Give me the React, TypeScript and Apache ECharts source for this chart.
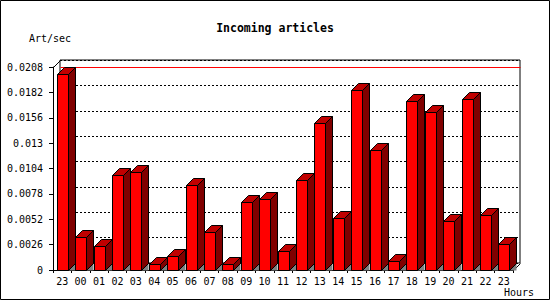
import React, { useEffect, useRef } from 'react';
import * as echarts from 'echarts';

const hours = ['23', '00', '01', '02', '03', '04', '05', '06', '07', '08', '09', '10', '11', '12', '13', '14', '15', '16', '17', '18', '19', '20', '21', '22', '23'];
const articlesPerSec = [0.0201, 0.0034, 0.0025, 0.0097, 0.0100, 0.0006, 0.0014, 0.0087, 0.0039, 0.0006, 0.0070, 0.0073, 0.0019, 0.0092, 0.0151, 0.0053, 0.0184, 0.0123, 0.0009, 0.0173, 0.0162, 0.0050, 0.0175, 0.0056, 0.0027];
const yMin = 0;
const yMax = 0.0208;
const yStep = 0.0026;
const titleText = 'Incoming articles';
const yTitle = 'Art/sec';
const xTitle = 'Hours';

const DEPTH = 7;
const FONT = '"DejaVu Sans Mono", monospace';

const fmt = (v: number) => String(parseFloat(v.toFixed(4)));

export default function App() {
  const ref = useRef<HTMLDivElement>(null);
  useEffect(() => {
    const chart = echarts.init(ref.current!, null, { renderer: 'svg' });
    const px = (v: number) => Math.round(v) + 0.5;
    const option: any = {
      animation: false,
      backgroundColor: '#fff',
      title: {
        text: titleText,
        left: 'center',
        top: 17,
        textStyle: { fontFamily: FONT, fontSize: 11.5, fontWeight: 'bold', color: '#000' },
      },
      grid: [
        { left: 53, right: 37, top: 67, bottom: 30, show: false },
        { left: 60, right: 30, top: 60, bottom: 37, show: true, backgroundColor: '#fff', borderColor: '#000', borderWidth: 1, z: 0 },
      ],
      xAxis: [
        {
          type: 'category',
          gridIndex: 0,
          data: hours,
          axisLine: { show: true, lineStyle: { color: '#000', width: 1 } },
          axisTick: { show: true, length: 3, lineStyle: { color: '#000' } },
          axisLabel: { color: '#000', fontFamily: FONT, fontSize: 10, margin: 6, interval: 0 },
          splitLine: { show: false },
          z: 2,
        },
        { type: 'category', gridIndex: 1, data: hours, show: false },
      ],
      yAxis: [
        {
          type: 'value',
          gridIndex: 0,
          min: yMin,
          max: yMax,
          interval: yStep,
          axisLine: { show: true, lineStyle: { color: '#000', width: 1 } },
          axisTick: { show: true, length: 4, lineStyle: { color: '#000' } },
          axisLabel: { color: '#000', fontFamily: FONT, fontSize: 10, margin: 10, formatter: fmt },
          splitLine: { show: false },
          z: 2,
        },
        {
          type: 'value',
          gridIndex: 1,
          min: yMin,
          max: yMax,
          interval: yStep,
          axisLine: { show: false },
          axisTick: { show: false },
          axisLabel: { show: false },
          splitLine: { show: true, lineStyle: { color: '#000', width: 1, type: [2, 2] } },
        },
      ],
      series: [
        {
          type: 'custom',
          xAxisIndex: 0,
          yAxisIndex: 0,
          z: 1,
          data: [[0, yMax]],
          encode: { x: 0, y: 1 },
          renderItem: (params: any, api: any) => {
            const cs = params.coordSys;
            const yTop = px(api.coord([0, api.value(1)])[1]);
            const left = px(cs.x);
            const right = px(cs.x + cs.width);
            const top = px(cs.y);
            const bottom = px(cs.y + cs.height);
            return {
              type: 'group',
              children: [
                { type: 'line', shape: { x1: left + DEPTH, y1: yTop, x2: right + DEPTH, y2: yTop }, style: { stroke: '#ff0000', lineWidth: 1 } },
                { type: 'line', shape: { x1: left, y1: top, x2: left + DEPTH, y2: top - DEPTH }, style: { stroke: '#000', lineWidth: 1 } },
                { type: 'line', shape: { x1: right, y1: bottom, x2: right + DEPTH, y2: bottom - DEPTH }, style: { stroke: '#000', lineWidth: 1 } },
              ],
            };
          },
        },
        {
          type: 'custom',
          xAxisIndex: 0,
          yAxisIndex: 0,
          z: 3,
          data: articlesPerSec.map((v, i) => [i, v]),
          encode: { x: 0, y: 1 },
          renderItem: (params: any, api: any) => {
            const idx = api.value(0);
            const v = api.value(1);
            const topPt = api.coord([idx, v]);
            const basePt = api.coord([idx, 0]);
            const band = api.size([1, 0])[0];
            const w = Math.round(band * 0.6);
            const x0 = px(topPt[0] - w / 2);
            const x1 = x0 + w;
            const yT = px(topPt[1]);
            const yB = px(basePt[1]);
            const d = DEPTH;
            const ls = { stroke: '#000', lineWidth: 1 };
            return {
              type: 'group',
              children: [
                { type: 'polygon', shape: { points: [[x1, yB], [x1 + d, yB - d], [x1 + d, yB]] }, style: { fill: '#808080', stroke: '#808080', lineWidth: 0 } },
                { type: 'polygon', shape: { points: [[x1, yT], [x1 + d, yT - d], [x1 + d, yB - d], [x1, yB]] }, style: { fill: '#800000', ...ls } },
                { type: 'polygon', shape: { points: [[x0, yT], [x0 + d, yT - d], [x1 + d, yT - d], [x1, yT]] }, style: { fill: '#c00000', ...ls } },
                { type: 'rect', shape: { x: x0, y: yT, width: w, height: yB - yT }, style: { fill: '#ff0000', ...ls } },
              ],
            };
          },
        },
      ],
      graphic: [
        { type: 'text', left: 29, top: 33, style: { text: yTitle, font: `10px ${FONT}`, fill: '#000' } },
        { type: 'text', left: 504, top: 287, style: { text: xTitle, font: `10px ${FONT}`, fill: '#000' } },
        { type: 'rect', silent: true, z: 10, shape: { x: 0.5, y: 0.5, width: 549, height: 299 }, style: { fill: 'none', stroke: '#000', lineWidth: 1 } },
      ],
    };
    chart.setOption(option);
    return () => chart.dispose();
  }, []);
  return <div ref={ref} style={{ position: 'fixed', left: 0, top: 0, width: 550, height: 300, background: '#fff' }} />;
}
